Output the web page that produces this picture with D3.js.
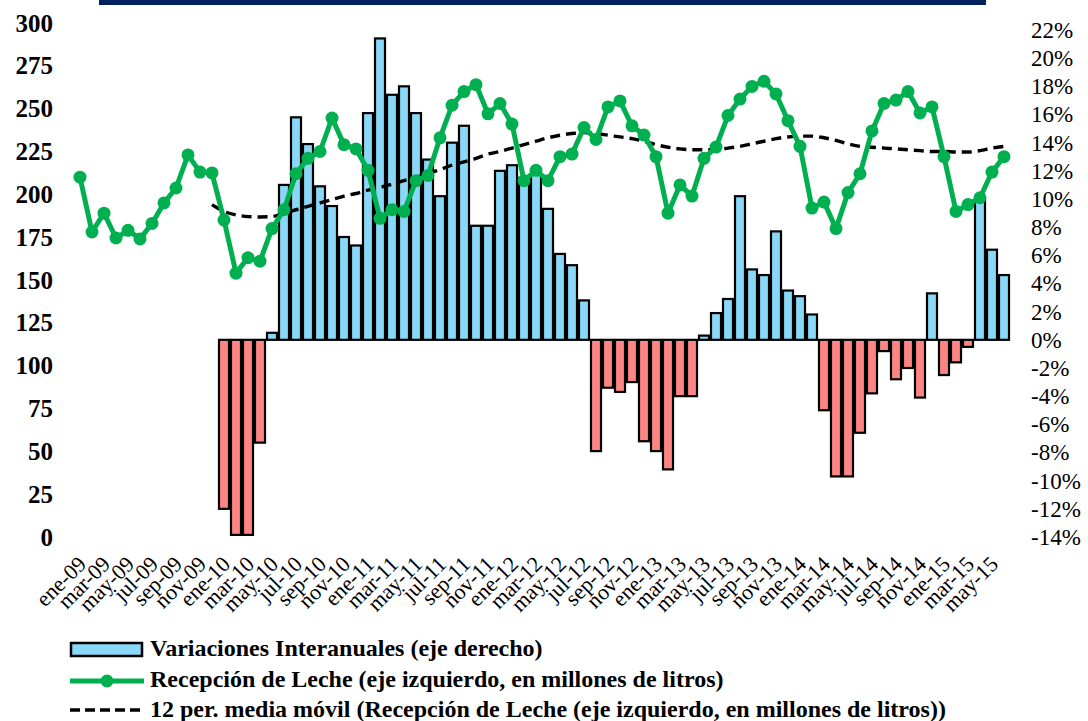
<!DOCTYPE html>
<html>
<head>
<meta charset="utf-8">
<script src="https://cdn.jsdelivr.net/npm/d3@7"></script>
<style>
  html, body { margin: 0; padding: 0; background: #fff; }
  svg { display: block; }
  text { font-family: "Liberation Serif", "Times New Roman", serif; fill: #000; }
</style>
</head>
<body>
<svg id="chart" width="1088" height="721"></svg>
<script>
// ---------- DATA ----------
const monthNames = ["ene","feb","mar","abr","may","jun","jul","ago","sep","oct","nov","dic"];
const years = ["09","10","11","12","13","14","15"];
const months = [];
years.forEach(y => monthNames.forEach(m => months.push(m + "-" + y)));
months.splice(78); // ene-09 .. jun-15

// Recepción de Leche (millones de litros), left axis
const recepcion = [
  210, 178, 189, 174.5, 179, 174, 183, 195, 203.7, 223, 213, 212.5,
  185, 154, 163, 161, 180, 191, 212, 221, 225, 244.5, 229, 226.5,
  214, 186, 191, 190, 208, 211, 233, 252, 260, 264, 247, 253,
  241, 208, 214, 208, 222, 223.5, 239, 232, 251, 254.5, 240, 234.6,
  222, 189, 205.5, 199, 221, 227.6, 246, 255.6, 263, 266, 258.6, 243,
  228, 192, 195.5, 180, 201, 212, 237, 253, 255, 260, 247.5, 251,
  222, 190, 194, 198, 213, 222
];

// 12 per. media móvil (left axis), from dic-09
const mediaMovil = [
  null, null, null, null, null, null, null, null, null, null, null, 194,
  190, 188, 187, 186.8, 187, 189, 191, 193, 195, 197, 199, 200.5,
  202.5, 204, 206, 208, 210, 212, 214.5, 217, 219, 221, 223.5, 225,
  227, 229, 231, 233, 234.5, 235.5, 236, 235.5, 234.5, 233.5, 232.5, 231,
  229, 227.5, 226.5, 226, 226, 226, 227, 228, 229.5, 231, 232.5, 233.5,
  234, 234, 233, 231.5, 229.5, 228, 227.5, 227, 226.5, 226, 225.5, 225,
  225, 224.7, 224.7, 225.5, 227, 228
];

// Variaciones Interanuales (%), right axis, from ene-10
const variaciones = [
  null, null, null, null, null, null, null, null, null, null, null, null,
  -12.0, -13.85, -13.85, -7.3, 0.5, 11.0, 15.8, 13.9, 10.9, 9.5, 7.3, 6.7,
  16.1, 21.4, 17.4, 18.0, 16.1, 12.8, 10.2, 14.0, 15.2, 8.1, 8.1, 12.0,
  12.4, 11.5, 11.8, 9.3, 6.1, 5.3, 2.8, -7.9, -3.4, -3.7, -3.0, -7.2,
  -7.9, -9.2, -4.0, -4.0, 0.3, 1.9, 2.9, 10.2, 5.0, 4.6, 7.7, 3.5,
  3.1, 1.8, -5.0, -9.7, -9.7, -6.6, -3.8, -0.8, -2.8, -2.0, -4.1, 3.3,
  -2.5, -1.6, -0.5, 10.0, 6.4, 4.6
];

const leftTicks = [0, 25, 50, 75, 100, 125, 150, 175, 200, 225, 250, 275, 300];
const rightTicks = [-14, -12, -10, -8, -6, -4, -2, 0, 2, 4, 6, 8, 10, 12, 14, 16, 18, 20, 22];
const xTickLabels = months.filter((m, i) => i % 2 === 0);

const legendLabels = [
  "Variaciones Interanuales (eje derecho)",
  "Recepción de Leche (eje izquierdo, en millones de litros)",
  "12 per. media móvil (Recepción de Leche (eje izquierdo, en millones de litros))"
];

// ---------- CHART ----------
const svg = d3.select("#chart");
const GREEN = "#00B050", BLUE = "#89D8F7", RED = "#FF8585", NAVY = "#002060";

svg.append("rect").attr("x", 99).attr("y", 0).attr("width", 887).attr("height", 5).attr("fill", NAVY);

const x = d3.scaleBand().domain(months).range([74, 1010]).paddingInner(0).paddingOuter(0);
const cx = m => x(m) + x.bandwidth() / 2;
const yL = d3.scaleLinear().domain([0, 300]).range([537, 23]);
const yR = d3.scaleLinear().domain([-14, 22]).range([537, 30]);

// Bars
const barData = months.map((m, i) => ({ m, v: variaciones[i] })).filter(d => d.v !== null);
const bw = 10;
svg.append("g").selectAll("rect").data(barData).join("rect")
  .attr("x", d => cx(d.m) - bw / 2)
  .attr("width", bw)
  .attr("y", d => Math.min(yR(d.v), yR(0)))
  .attr("height", d => Math.abs(yR(d.v) - yR(0)))
  .attr("fill", d => d.v >= 0 ? BLUE : RED)
  .attr("stroke", "#000").attr("stroke-width", 2.2);

// Moving average
const maData = months.map((m, i) => ({ m, v: mediaMovil[i] })).filter(d => d.v !== null);
svg.append("path").datum(maData)
  .attr("d", d3.line().x(d => cx(d.m)).y(d => yL(d.v)).curve(d3.curveMonotoneX))
  .attr("fill", "none").attr("stroke", "#000").attr("stroke-width", 3.4)
  .attr("stroke-dasharray", "10,6");

// Recepción line
const recData = months.map((m, i) => ({ m, v: recepcion[i] }));
svg.append("path").datum(recData)
  .attr("d", d3.line().x(d => cx(d.m)).y(d => yL(d.v)))
  .attr("fill", "none").attr("stroke", GREEN).attr("stroke-width", 5).attr("stroke-linejoin", "round");
svg.append("g").selectAll("circle").data(recData).join("circle")
  .attr("cx", d => cx(d.m)).attr("cy", d => yL(d.v)).attr("r", 6.5).attr("fill", GREEN);

// Left axis
const gL = svg.append("g").attr("transform", "translate(53,0)")
  .call(d3.axisLeft(yL).tickValues(leftTicks).tickSize(0).tickPadding(0));
gL.select(".domain").remove();
gL.selectAll("text").style("font-family", "'Liberation Serif', serif")
  .style("font-weight", "bold").style("font-size", "25px").attr("fill", "#000");

// Right axis
const gR = svg.append("g").attr("transform", "translate(1031,0)")
  .call(d3.axisRight(yR).tickValues(rightTicks).tickSize(0).tickPadding(0).tickFormat(d => d + "%"));
gR.select(".domain").remove();
gR.selectAll("text").style("font-family", "'Liberation Serif', serif")
  .style("font-size", "23px").attr("fill", "#000");

// X labels
svg.append("g").selectAll("text").data(xTickLabels).join("text")
  .attr("transform", d => `translate(${cx(d) + 2},${560}) rotate(-45)`)
  .attr("text-anchor", "end")
  .attr("dy", "0.35em")
  .style("font-size", "22px")
  .text(d => d);

// Legend
const lg = svg.append("g");
lg.append("rect").attr("x", 71).attr("y", 643).attr("width", 71).attr("height", 13)
  .attr("fill", BLUE).attr("stroke", "#000").attr("stroke-width", 2.5);
lg.append("line").attr("x1", 70).attr("x2", 144).attr("y1", 681).attr("y2", 681)
  .attr("stroke", GREEN).attr("stroke-width", 5);
lg.append("circle").attr("cx", 107).attr("cy", 681).attr("r", 6.5).attr("fill", GREEN);
lg.append("line").attr("x1", 70).attr("x2", 144).attr("y1", 710).attr("y2", 710)
  .attr("stroke", "#000").attr("stroke-width", 3.4).attr("stroke-dasharray", "10,5");
lg.selectAll("text.lab").data(legendLabels).join("text").attr("class", "lab")
  .attr("x", 150).attr("y", (d, i) => 649 + i * 30.5).attr("dy", "0.3em")
  .style("font-weight", "bold").style("font-size", "24px")
  .text(d => d);
</script>
</body>
</html>
